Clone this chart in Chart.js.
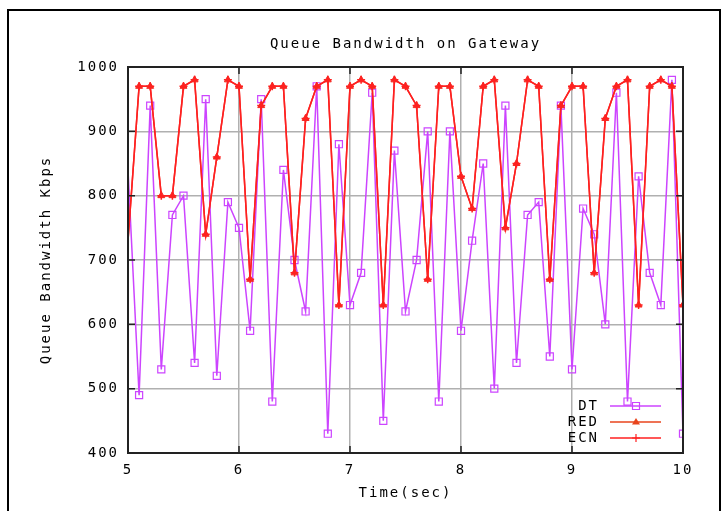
<!DOCTYPE html>
<html><head><meta charset="utf-8">
<script src="https://cdn.jsdelivr.net/npm/chart.js@4/dist/chart.umd.min.js"></script>
<style>html,body{margin:0;padding:0;background:#fff;}#wrap{width:723px;height:511px;position:relative;}</style>
</head><body><div id="wrap"><canvas id="c" width="723" height="511"></canvas></div>
<script>
const chartTitle = 'Queue Bandwidth on Gateway';
const xTitle = 'Time(sec)';
const yTitle = 'Queue Bandwidth Kbps';
const times = [5.0,5.1,5.2,5.3,5.4,5.5,5.6,5.7,5.8,5.9,6.0,6.1,6.2,6.3,6.4,6.5,6.6,6.7,6.8,6.9,7.0,7.1,7.2,7.3,7.4,7.5,7.6,7.7,7.8,7.9,8.0,8.1,8.2,8.3,8.4,8.5,8.6,8.7,8.8,8.9,9.0,9.1,9.2,9.3,9.4,9.5,9.6,9.7,9.8,9.9,10.0];
const dtValues = [840,490,940,530,770,800,540,950,520,790,750,590,950,480,840,700,620,970,430,880,630,680,960,450,870,620,700,900,480,900,590,730,850,500,940,540,770,790,550,940,530,780,740,600,960,480,830,680,630,980,430];
const redValues = [730,970,970,800,800,970,980,740,860,980,970,670,940,970,970,680,920,970,980,630,970,980,970,630,980,970,940,670,970,970,830,780,970,980,750,850,980,970,670,940,970,970,680,920,970,980,630,970,980,970,630];
const ecnValues = [730,970,970,800,800,970,980,740,860,980,970,670,940,970,970,680,920,970,980,630,970,980,970,630,980,970,940,670,970,970,830,780,970,980,750,850,980,970,670,940,970,970,680,920,970,980,630,970,980,970,630];
const xTicks = [5,6,7,8,9,10];
const yTicks = [400,500,600,700,800,900,1000];
const seriesNames = ['DT','RED','ECN'];

const FONT = "'DejaVu Sans Mono', 'Liberation Mono', monospace";
const SPACING = '2px';
const toPts = vals => vals.map((v, i) => ({x: times[i], y: v}));
const radiusFrom = r => c => (c.dataIndex === 0 ? 0 : r);

function drawMarker(ctx, style, x, y, color) {
  ctx.save();
  ctx.strokeStyle = color; ctx.fillStyle = color; ctx.lineWidth = 1.2;
  ctx.beginPath();
  if (style === 'rect') {
    ctx.rect(x - 3.5, y - 3.5, 7, 7); ctx.stroke();
  } else if (style === 'triangle') {
    ctx.moveTo(x, y - 4); ctx.lineTo(x + 4, y + 2.5); ctx.lineTo(x - 4, y + 2.5); ctx.closePath(); ctx.fill();
  } else {
    ctx.moveTo(x - 4, y); ctx.lineTo(x + 4, y); ctx.moveTo(x, y - 4); ctx.lineTo(x, y + 4); ctx.stroke();
  }
  ctx.restore();
}

const framePlugin = {
  id: 'frame',
  beforeDraw(chart) {
    const ctx = chart.ctx;
    ctx.letterSpacing = SPACING;
    ctx.save();
    ctx.strokeStyle = '#000'; ctx.lineWidth = 2;
    ctx.beginPath();
    ctx.moveTo(8, 520); ctx.lineTo(8, 10); ctx.lineTo(720, 10); ctx.lineTo(720, 520);
    ctx.stroke();
    ctx.restore();
  },
  afterDraw(chart) {
    const ctx = chart.ctx;
    const a = chart.chartArea;
    const xs = chart.scales.x, ys = chart.scales.y;
    ctx.save();
    ctx.strokeStyle = '#222'; ctx.lineWidth = 2;
    ctx.strokeRect(a.left, a.top, a.right - a.left, a.bottom - a.top);
    ctx.lineWidth = 1.5;
    ctx.beginPath();
    xTicks.forEach(v => { const px = xs.getPixelForValue(v);
      ctx.moveTo(px, a.bottom); ctx.lineTo(px, a.bottom - 7);
      ctx.moveTo(px, a.top); ctx.lineTo(px, a.top + 7); });
    yTicks.forEach(v => { const py = ys.getPixelForValue(v);
      ctx.moveTo(a.left, py); ctx.lineTo(a.left + 7, py);
      ctx.moveTo(a.right, py); ctx.lineTo(a.right - 7, py); });
    ctx.stroke();
    // legend
    ctx.letterSpacing = SPACING;
    ctx.font = '14px ' + FONT;
    ctx.textAlign = 'right'; ctx.textBaseline = 'middle'; ctx.fillStyle = '#000';
    const ds = chart.data.datasets;
    const rowY = [a.bottom - 47, a.bottom - 31, a.bottom - 15];
    ds.forEach((d, i) => {
      const y = rowY[i];
      ctx.fillText(d.label, a.right - 84, y);
      ctx.strokeStyle = d.legendColor; ctx.lineWidth = 1.5;
      ctx.beginPath(); ctx.moveTo(a.right - 73, y); ctx.lineTo(a.right - 22, y); ctx.stroke();
      drawMarker(ctx, d.pointStyle, a.right - 47, y, d.legendColor);
    });
    ctx.restore();
  }
};

new Chart(document.getElementById('c'), {
  type: 'line',
  data: {
    datasets: [
      { label: seriesNames[0], data: toPts(dtValues), borderColor: '#cc44ff', legendColor: '#cc44ff', backgroundColor: 'rgba(0,0,0,0)',
        pointStyle: 'rect', pointRadius: radiusFrom(5), pointBorderWidth: 1.2, borderWidth: 1.5, order: 3 },
      { label: seriesNames[1], data: toPts(redValues), borderColor: '#f52a22', legendColor: '#e8441c', backgroundColor: '#f52a22',
        pointStyle: 'triangle', pointRadius: radiusFrom(4), pointBorderWidth: 1, borderWidth: 1.5, order: 2 },
      { label: seriesNames[2], data: toPts(ecnValues), borderColor: '#ff2020', legendColor: '#ff2020', backgroundColor: '#ff2020',
        pointStyle: 'cross', pointRadius: radiusFrom(4), pointBorderWidth: 1.5, borderWidth: 1.5, order: 1 }
    ]
  },
  options: {
    responsive: false, animation: false, devicePixelRatio: 1,
    layout: { padding: { left: 0, right: 40, top: 0, bottom: 0 } },
    plugins: {
      legend: { display: false },
      tooltip: { enabled: false },
      title: { display: true, text: chartTitle, fullSize: false, color: '#000',
        font: { family: FONT, size: 14, weight: 'normal' }, padding: { top: 35.6, bottom: 14.6 } }
    },
    scales: {
      x: { type: 'linear', min: 5, max: 10,
        afterBuildTicks: s => { s.ticks = xTicks.map(v => ({ value: v })); },
        afterFit: s => { s.height = 58; },
        ticks: { color: '#000', font: { family: FONT, size: 14 }, padding: 9, maxRotation: 0, callback: v => String(v) },
        grid: { color: '#b0b0b0', lineWidth: 1.5, drawTicks: false },
        border: { display: false },
        title: { display: true, text: xTitle, color: '#000', font: { family: FONT, size: 14 }, padding: { top: 0, bottom: 9 } }
      },
      y: { type: 'linear', min: 400, max: 1000,
        afterBuildTicks: s => { s.ticks = yTicks.map(v => ({ value: v })); },
        afterFit: s => { s.width = 128; },
        ticks: { color: '#000', font: { family: FONT, size: 14 }, padding: 9, callback: v => String(v) },
        grid: { color: '#b0b0b0', lineWidth: 1.5, drawTicks: false },
        border: { display: false },
        title: { display: true, text: yTitle, color: '#000', font: { family: FONT, size: 14 }, padding: { top: 37.6, bottom: 0 } }
      }
    }
  },
  plugins: [framePlugin]
});
</script></body></html>
